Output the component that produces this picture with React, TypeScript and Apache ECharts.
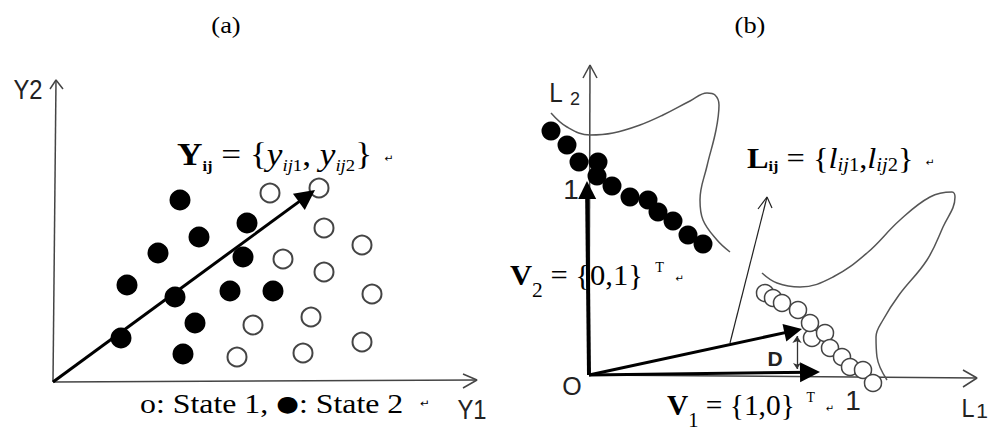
import React, { useEffect, useRef } from 'react';
import * as echarts from 'echarts';

// ---------- Panel (a) data (units: 1 = 10px, origin at axes corner) ----------
const aState2Filled: number[][] = [
  [12.7, 18.2], [19.4, 15.9], [14.6, 14.5], [10.5, 12.9], [19.0, 12.5], [7.4, 9.7],
  [12.2, 8.5], [17.7, 9.1], [22.0, 9.1], [14.2, 5.9], [6.8, 4.4], [13.0, 2.8],
];
const aState1Open: number[][] = [
  [21.7, 18.9], [26.6, 19.4], [27.1, 15.4], [30.9, 13.7], [23.0, 12.3], [27.1, 11.0],
  [31.9, 8.8], [25.8, 6.5], [20.0, 5.7], [30.9, 4.0], [25.0, 2.9], [18.4, 2.5],
];
const aVectorTip: number[] = [26.2, 19.2];
const aXAxisLine: number[][] = [[0, 0], [42.4, 0.2]];
const aXAxisHead: number[][] = [[41.0, 0.8], [42.4, 0.2], [41.0, -0.6]];
const aYAxisLine: number[][] = [[0, 0], [0.3, 30.2]];
const aYAxisHead: number[][] = [[-0.3, 29.3], [0.3, 30.2], [1.0, 29.3]];

// ---------- Panel (b) data ----------
const bState2Filled: number[][] = [
  [-3.8, 24.4], [-2.2, 23.0], [-1.0, 21.3], [0.9, 21.3], [0.8, 19.9], [2.3, 18.9],
  [4.1, 17.8], [5.9, 17.5], [6.9, 16.3], [8.4, 15.4], [9.9, 14.0], [11.4, 13.1],
];
const bState1Open: number[][] = [
  [17.6, 8.2], [18.4, 7.7], [19.3, 7.2], [20.9, 6.5], [22.3, 3.7], [22.1, 5.2],
  [23.6, 4.2], [24.1, 2.7], [25.3, 1.8], [26.1, 0.8], [27.4, 0.5], [28.4, -0.8],
];
const bUpperBoundary: number[][] = [
  [-3.8, 26.2], [-2.2, 24.8], [0.1, 24.0], [2.4, 24.2], [5.1, 25.0], [7.4, 26.0],
  [10.1, 27.4], [11.8, 28.2], [12.6, 28.0], [13.0, 27.0], [12.7, 24.5], [11.8, 20.9],
  [11.1, 17.5], [11.4, 15.5], [12.8, 13.5], [14.1, 12.3],
];
const bLowerBoundary: number[][] = [
  [17.3, 10.2], [18.8, 9.2], [21.1, 8.8], [24.4, 9.8], [27.8, 12.2], [31.1, 15.5],
  [34.1, 17.8], [36.3, 18.3], [36.6, 17.8], [35.4, 14.8], [33.8, 11.5], [31.0, 8.0],
  [29.4, 5.5], [28.7, 3.8], [28.8, 1.8], [29.8, -0.5],
];
const bV2Tip: number[] = [-0.2, 19.4];
const bV1Tip: number[] = [23.1, 0.3];
const bLTip: number[] = [21.3, 4.6];
const bPointerLine: number[][] = [[14.1, 3.2], [17.8, 17.8]];
const bPointerHead: number[][] = [[16.9, 16.6], [17.8, 17.8], [18.3, 16.7]];
const bDistance: number[][] = [[20.8, 0.6], [20.8, 3.9]];
const bXAxisLine: number[][] = [[0, 0], [38.8, -0.3]];
const bXAxisHead: number[][] = [[37.4, 0.5], [38.8, -0.3], [37.4, -1.2]];
const bYAxisLine: number[][] = [[0, 0], [0.1, 31.0]];
const bYAxisHead: number[][] = [[-0.6, 29.7], [0.1, 31.0], [0.8, 29.7]];

const PX_PER_UNIT = 10;

function shaftEnd(from: number[], tip: number[], headPx: number): number[] {
  const dx = tip[0] - from[0];
  const dy = tip[1] - from[1];
  const len = Math.sqrt(dx * dx + dy * dy);
  const back = headPx / 2 / PX_PER_UNIT;
  return [tip[0] - (dx / len) * back, tip[1] - (dy / len) * back];
}

const SERIF = 'Liberation Serif';
const SANS = 'Liberation Sans';
const RET = 'DejaVu Sans';

// sub: subscript font size, drop: how far the subscript baseline sits below the main baseline
function formulaRich(size: number, sub: number, drop: number, bsub: number) {
  const lh = Math.round(size * 1.3);
  const padSub = (s: number) => Math.max(0, Math.round(2 * (drop - 0.3375 * (s - size))));
  const riseT = 13;
  const supSize = 14;
  const padSup = Math.max(0, Math.round(2 * (0.3375 * supSize - 0.3375 * size + riseT)));
  const base = { fontFamily: SERIF, color: '#000', verticalAlign: 'middle' };
  return {
    B: { ...base, fontWeight: 'bold', fontSize: size, lineHeight: lh },
    R: { ...base, fontSize: size, lineHeight: lh },
    I: { ...base, fontStyle: 'italic', fontSize: size, lineHeight: lh },
    bs: { ...base, fontWeight: 'bold', fontSize: bsub, lineHeight: lh, padding: [padSub(bsub), 0, 0, 0] },
    is: { ...base, fontStyle: 'italic', fontSize: sub, lineHeight: lh, padding: [padSub(sub), 0, 0, 0] },
    rs: { ...base, fontSize: sub, lineHeight: lh, padding: [padSub(sub), 0, 0, 0] },
    sup: { ...base, fontSize: supSize, lineHeight: lh, padding: [0, 0, padSup, 12] },
    ret: { fontFamily: RET, fontSize: 10, lineHeight: lh, color: '#888', verticalAlign: 'middle', padding: [8, 0, 0, 11] },
  };
}

// baseline: y of the main text baseline
function formula(x: number, baseline: number, size: number, sub: number, drop: number, bsub: number, text: string, scaleX: number) {
  return {
    type: 'text',
    x,
    y: baseline - 0.3375 * size,
    scaleX,
    style: {
      text,
      fontFamily: SERIF,
      fontSize: size,
      lineHeight: Math.round(size * 1.3),
      fill: '#000',
      align: 'left',
      verticalAlign: 'middle',
      rich: formulaRich(size, sub, drop, bsub),
    },
  };
}

function label(x: number, y: number, text: string, size: number, family: string, opts: any = {}) {
  return {
    type: 'text',
    x,
    y,
    scaleX: opts.scaleX || 1,
    style: {
      text,
      fontFamily: family,
      fontSize: size,
      fontWeight: opts.bold ? 'bold' : 'normal',
      fill: opts.color || '#111',
      align: opts.align || 'center',
      verticalAlign: 'middle',
    },
  };
}

function lineSeries(data: number[][], gi: number, width: number, color: string, smooth: number | boolean = false) {
  return {
    type: 'line',
    xAxisIndex: gi,
    yAxisIndex: gi,
    data,
    showSymbol: false,
    symbol: 'none',
    smooth,
    clip: false,
    silent: true,
    lineStyle: { color, width },
    z: 3,
  };
}

function arrowSeries(from: number[], tip: number[], gi: number, width: number, head: number[]) {
  return {
    type: 'lines',
    coordinateSystem: 'cartesian2d',
    xAxisIndex: gi,
    yAxisIndex: gi,
    symbol: ['none', 'triangle'],
    symbolSize: head,
    clip: false,
    silent: true,
    lineStyle: { color: '#000', width, opacity: 1, curveness: 0 },
    data: [{ coords: [from, shaftEnd(from, tip, head[1])] }],
    z: 6,
  };
}

export default function App() {
  const ref = useRef<HTMLDivElement>(null);
  useEffect(() => {
    if (!ref.current) return;
    const chart = echarts.init(ref.current, undefined, { renderer: 'svg' });
    const option: any = {
      animation: false,
      backgroundColor: '#fff',
      grid: [
        { left: 43, top: 70, width: 444, height: 322 },
        { left: 539, top: 53, width: 450, height: 342 },
      ],
      xAxis: [
        { type: 'value', gridIndex: 0, min: -1, max: 43.4, show: false },
        { type: 'value', gridIndex: 1, min: -5, max: 40, show: false },
      ],
      yAxis: [
        { type: 'value', gridIndex: 0, min: -1, max: 31.2, show: false },
        { type: 'value', gridIndex: 1, min: -2, max: 32.2, show: false },
      ],
      series: [
        // panel (a)
        lineSeries(aXAxisLine, 0, 1.5, '#444'),
        lineSeries(aXAxisHead, 0, 1.5, '#444'),
        lineSeries(aYAxisLine, 0, 1.5, '#444'),
        lineSeries(aYAxisHead, 0, 1.5, '#444'),
        {
          type: 'scatter', xAxisIndex: 0, yAxisIndex: 0, data: aState2Filled,
          symbol: 'circle', symbolSize: 21, silent: true,
          itemStyle: { color: '#000', opacity: 1 }, z: 4,
        },
        {
          type: 'scatter', xAxisIndex: 0, yAxisIndex: 0, data: aState1Open,
          symbol: 'circle', symbolSize: 19, silent: true,
          itemStyle: { color: '#fff', borderColor: '#444', borderWidth: 2, opacity: 1 }, z: 4,
        },
        arrowSeries([0, 0], aVectorTip, 0, 3, [16, 20]),
        // panel (b)
        lineSeries(bXAxisLine, 1, 1.5, '#444'),
        lineSeries(bXAxisHead, 1, 1.5, '#444'),
        lineSeries(bYAxisLine, 1, 1.5, '#444'),
        lineSeries(bYAxisHead, 1, 1.5, '#444'),
        lineSeries(bUpperBoundary, 1, 1.5, '#555', 0.4),
        lineSeries(bLowerBoundary, 1, 1.5, '#555', 0.4),
        {
          type: 'scatter', xAxisIndex: 1, yAxisIndex: 1, data: bState2Filled,
          symbol: 'circle', symbolSize: 19, silent: true,
          itemStyle: { color: '#000', opacity: 1 }, z: 4,
        },
        {
          type: 'scatter', xAxisIndex: 1, yAxisIndex: 1, data: bState1Open,
          symbol: 'circle', symbolSize: 17, silent: true,
          itemStyle: { color: '#fff', borderColor: '#444', borderWidth: 1.5, opacity: 1 }, z: 4,
        },
        lineSeries(bPointerLine, 1, 1.2, '#222'),
        lineSeries(bPointerHead, 1, 1.2, '#222'),
        arrowSeries([0, 0], bV2Tip, 1, 4, [20, 18]),
        arrowSeries([0, 0], bV1Tip, 1, 3, [17, 20]),
        arrowSeries([0, 0], bLTip, 1, 3, [15, 18]),
        {
          type: 'lines', coordinateSystem: 'cartesian2d', xAxisIndex: 1, yAxisIndex: 1,
          symbol: ['arrow', 'arrow'], symbolSize: [6, 7], clip: false, silent: true,
          lineStyle: { color: '#333', width: 1.3, opacity: 1 },
          data: [{ coords: bDistance }], z: 6,
        },
      ],
      graphic: [
        label(226, 25, '(a)', 24, SERIF, { color: '#000', scaleX: 1.1 }),
        label(750, 25, '(b)', 24, SERIF, { color: '#000', scaleX: 1.1 }),
        label(28, 89, 'Y2', 28, SANS, { color: '#222', scaleX: 0.85 }),
        label(472, 409, 'Y1', 28, SANS, { color: '#222', scaleX: 0.85 }),
        formula(177, 165, 32, 17, 6, 15, '{B|Y}{bs|ij}{R| = }{{I|y}{is|ij}{rs|1}{R|, }{I|y}{is|ij}{rs|2}}{ret|↵}', 1.1),
        {
          type: 'text', x: 140, y: 404, scaleX: 1.18,
          style: {
            text: 'o: State 1, {d|●}: State 2{r|↵}',
            fontFamily: SERIF, fontSize: 27, fill: '#000', align: 'left', verticalAlign: 'middle',
            rich: {
              d: { fontFamily: RET, fontSize: 22, color: '#000' },
              r: { fontFamily: RET, fontSize: 10, color: '#888', padding: [0, 0, 0, 14] },
            },
          },
        },
        // panel (b) labels
        label(556, 93, 'L', 27, SANS, { color: '#222', scaleX: 0.9 }),
        label(575, 99, '2', 18, SANS, { color: '#222' }),
        label(968, 408, 'L', 26, SANS, { color: '#222', scaleX: 0.9 }),
        label(982, 410, '1', 21, SANS, { color: '#222' }),
        label(572, 386, 'O', 25, SANS, { color: '#222' }),
        label(571, 189, '1', 28, SANS, { color: '#222' }),
        label(853, 400, '1', 28, SANS, { color: '#222' }),
        label(775, 358, 'D', 21, SANS, { color: '#222', bold: true }),
        formula(747, 168, 30, 19, 3, 15, '{B|L}{bs|ij}{R| = }{{I|l}{is|ij}{rs|1}{R|,}{I|l}{is|ij}{rs|2}}{ret|↵}', 1.08),
        formula(510, 285, 30, 21, 12, 15, '{B|V}{rs|2}{R| = }{0,1}{sup|T}{ret|↵}', 1.02),
        formula(667, 415, 30, 21, 12, 15, '{B|V}{rs|1}{R| = }{1,0}{sup|T}{ret|↵}', 0.98),
      ],
    };
    chart.setOption(option);
    return () => chart.dispose();
  }, []);
  return (
    <div
      ref={ref}
      style={{ position: 'fixed', left: 0, top: 0, width: 1000, height: 433, background: '#fff' }}
    />
  );
}
